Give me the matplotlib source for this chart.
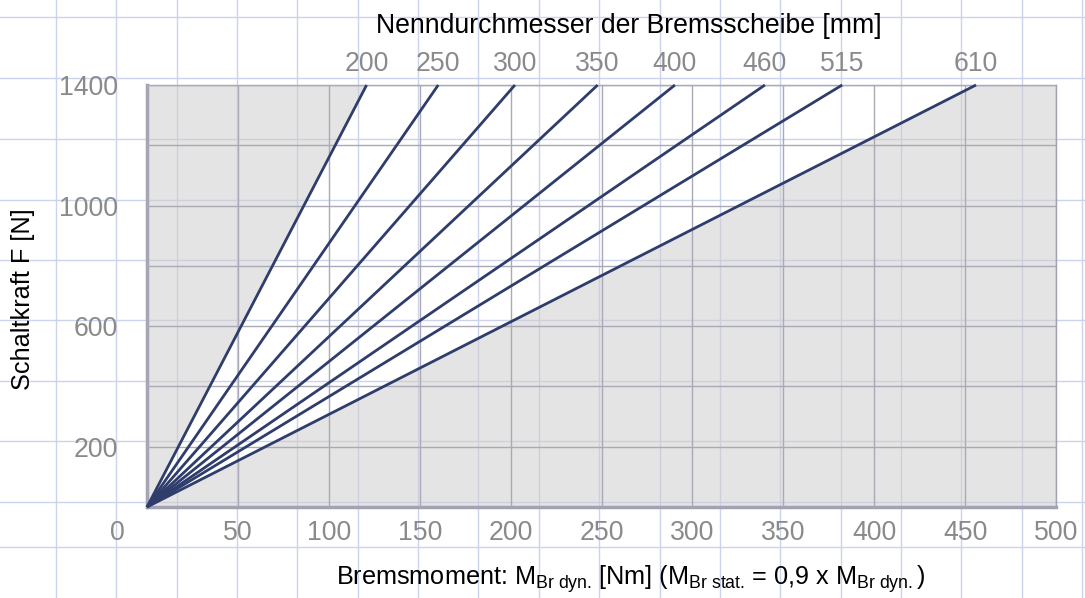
import numpy as np
import matplotlib
matplotlib.use("Agg")
import matplotlib.pyplot as plt
import matplotlib.transforms as mtransforms

plt.rcParams['font.family'] = ['Liberation Sans', 'DejaVu Sans']
plt.rcParams['mathtext.fontset'] = 'custom'
plt.rcParams['mathtext.rm'] = 'Liberation Sans'
plt.rcParams['mathtext.it'] = 'Liberation Sans:italic'
plt.rcParams['mathtext.default'] = 'regular'

# disc diameters [mm] and braking torque [Nm] reached at the top force
diameters = [200, 250, 300, 350, 400, 460, 515, 610]
torque_at_top = [120.8, 160.2, 202.4, 247.9, 290.4, 339.9, 382.4, 456.0]
force_range = [0, 1400]

x_ticks = [0, 50, 100, 150, 200, 250, 300, 350, 400, 450, 500]
y_ticks = [200, 400, 600, 800, 1000, 1200, 1400]
y_labels = ['200', '', '600', '', '1000', '', '1400']

# background paper grid (pixel positions)
paper_x = [56 + 60.35 * k for k in range(18)]
paper_y = [17, 78, 139, 200, 260, 320, 381, 441, 502, 547]

W, H = 1085, 598
fs = 19.2
fig = plt.figure(figsize=(W / 100, H / 100), dpi=100)

bg = fig.add_axes([0, 0, 1, 1])
bg.set_xlim(0, W)
bg.set_ylim(H, 0)
bg.axis('off')
for px in paper_x:
    bg.axvline(px, color='#ccd3ec', lw=1)
for py in paper_y:
    bg.axhline(py, color='#ccd3ec', lw=1)

ax = fig.add_axes([147 / W, 1 - 507 / H, (1056 - 147) / W, (507 - 85) / H])
ax.set_facecolor('none')
ax.set_xlim(0, 500)
ax.set_ylim(0, 1400)

# gray zones outside the fan of lines
gray = '#cfcfcf'
ax.fill_betweenx(force_range, [0, 0], [0, torque_at_top[0]], color=gray, alpha=0.55, lw=0, zorder=1)
ax.fill_betweenx(force_range, [0, torque_at_top[-1]], [500, 500], color=gray, alpha=0.55, lw=0, zorder=1)

ax.set_xticks(x_ticks, labels=[str(v) for v in x_ticks])
ax.set_yticks(y_ticks, labels=y_labels)
ax.grid(True, color='#a9a9b8', lw=1, zorder=2)
ax.set_axisbelow(False)
ax.tick_params(length=0, labelsize=fs, labelcolor='#8a8a8a')
ax.tick_params(axis='x', pad=9)
ax.tick_params(axis='y', pad=21)

# shift the "0" label to the left like the original
lbl0 = ax.get_xticklabels()[0]
lbl0.set_transform(lbl0.get_transform() + mtransforms.ScaledTranslation(-30 / 100, 0, fig.dpi_scale_trans))

for side in ['top', 'right']:
    ax.spines[side].set_color('#a3a2b3')
    ax.spines[side].set_linewidth(1)
for side in ['left', 'bottom']:
    ax.spines[side].set_color('#a3a2b3')
    ax.spines[side].set_linewidth(2.5)

for t in torque_at_top:
    ax.plot([0, t], force_range, color='#2e3d6b', lw=2, solid_capstyle='butt', zorder=4, clip_on=False)

top = ax.secondary_xaxis('top')
top.set_xticks(torque_at_top, labels=[str(d) for d in diameters])
top.tick_params(length=0, labelsize=fs, labelcolor='#8a8a8a', pad=6)
top.spines['top'].set_visible(False)

fig.text(629 / W, 1 - 33 / H, 'Nenndurchmesser der Bremsscheibe [mm]',
         ha='center', va='baseline', fontsize=fs, color='black')
fig.text(631 / W, 1 - 585 / H,
         r'Bremsmoment: M$_{Br\ dyn.}\,$[Nm] (M$_{Br\ stat.}\,$= 0,9 x M$_{Br\ dyn.}$)',
         ha='center', va='baseline', fontsize=18.2, color='black')
fig.text(23 / W, 1 - 299 / H, 'Schaltkraft F [N]', rotation=90,
         ha='center', va='center', fontsize=18.2, color='black')

fig.savefig('out.png', dpi=100)
